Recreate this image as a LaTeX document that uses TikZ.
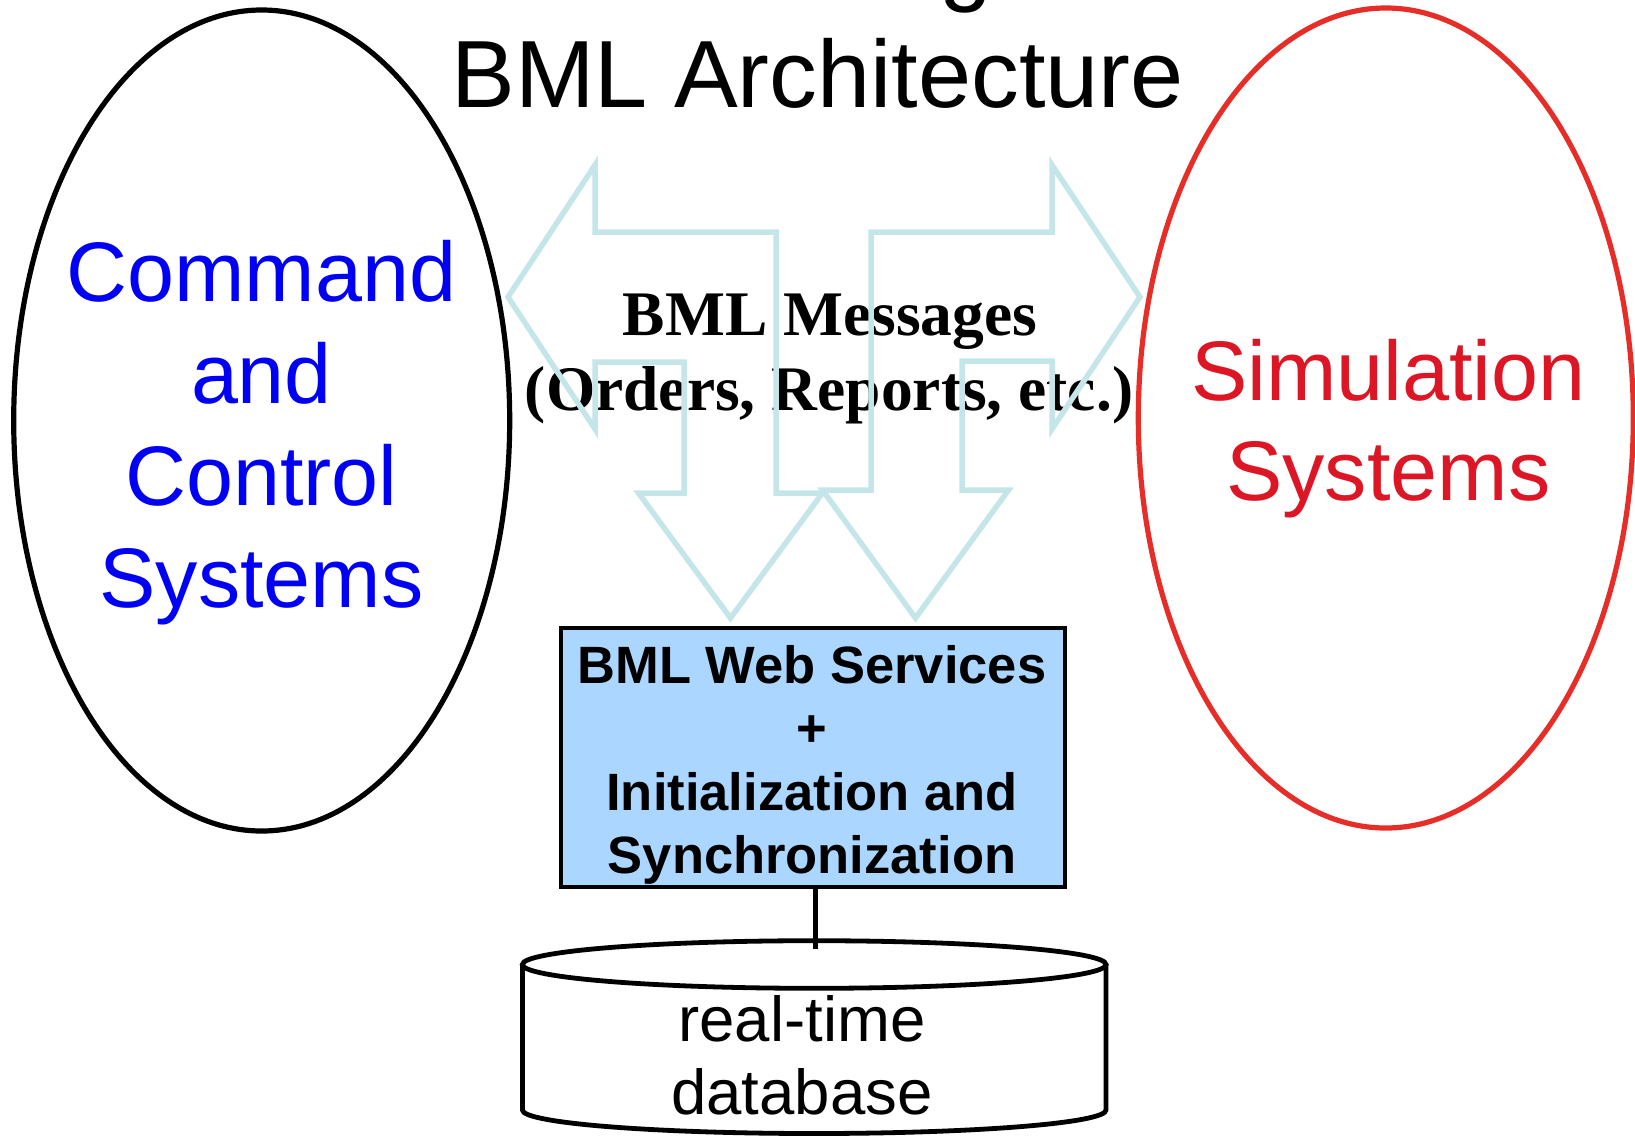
\documentclass[tikz,border=0pt]{standalone}
\usepackage{fontspec}
\setmainfont{Liberation Sans}
\newfontfamily\msgfont{Liberation Serif}
\usetikzlibrary{shapes.geometric}
\definecolor{cmdblue}{RGB}{0,0,245}
\definecolor{simred}{RGB}{220,22,36}
\definecolor{simedge}{RGB}{230,45,40}
\definecolor{flowcyan}{RGB}{197,230,232}
\definecolor{svcfill}{RGB}{170,214,255}
\newcommand\fsz[1]{\fontsize{#1}{#1}\selectfont}

\begin{document}
\begin{tikzpicture}[x=1pt,y=-1pt,
  lbl/.style={inner sep=0pt, anchor=base},
  sysoval/.style={draw, ellipse, line width=5.2pt, inner sep=0pt},
  flow/.style={draw=flowcyan, line width=5.5pt, line join=miter},
  dbline/.style={draw=black, line width=4.8pt, fill=white}]
\useasboundingbox (0,0) rectangle (1635,1136);
\fill[white] (0,0) rectangle (1635,1136);

% title
\node[lbl, font=\fsz{95}] (titlecut) at (966,-6.5) {g};
\node[lbl, font=\fsz{95.5}] (title) at (817.6,107.3) {BML Architecture};

% the two system ovals
\node[sysoval, draw=black, minimum width=496pt, minimum height=821pt] (c2) at (261.7,420.5) {};
\node[lbl, font=\fsz{84.5}, text=cmdblue] (c2a) at (261.5,301) {Command};
\node[lbl, font=\fsz{84.5}, text=cmdblue] (c2b) at (261.5,403.5) {and};
\node[lbl, font=\fsz{84.5}, text=cmdblue] (c2c) at (261.5,505) {Control};
\node[lbl, font=\fsz{84.5}, text=cmdblue] (c2d) at (261.5,607.5) {Systems};

\node[sysoval, draw=simedge, minimum width=495pt, minimum height=820pt] (sim) at (1385.8,418) {};
\node[lbl, font=\fsz{84.5}, text=simred] (sima) at (1388.3,400.4) {Simulation};
\node[lbl, font=\fsz{84.5}, text=simred] (simb) at (1388.3,500.8) {Systems};

% message label
\node[lbl, font=\msgfont\bfseries\fsz{63.5}] (msg1) at (830,335) {BML Messages};
\node[lbl, font=\msgfont\bfseries\fsz{63.5}] (msg2) at (829,410) {(Orders, Reports, etc.)};

% bent two-headed flow arrows, outline only
\draw[flow] (595,165) -- (508,297) -- (595,429) -- (595,362) -- (684,362)
  -- (684,493) -- (638.5,493) -- (730.5,618) -- (822.5,493) -- (776,493)
  -- (776,232) -- (595,232) -- cycle;
\draw[flow] (1052,165) -- (1140,297) -- (1052,429) -- (1052,361) -- (962,361)
  -- (962,490) -- (1008.5,490) -- (915.5,618) -- (822.5,490) -- (871,490)
  -- (871,232) -- (1052,232) -- cycle;

% web services box
\node[draw, line width=4.8pt, fill=svcfill, minimum width=504pt, minimum height=259pt, inner sep=0pt] (ws) at (813,757.5) {};
\node[lbl, font=\bfseries\fsz{52.5}] (ws1) at (812,683) {BML Web Services};
\node[lbl, font=\bfseries\fsz{52.5}] (ws2) at (812,746) {+};
\node[lbl, font=\bfseries\fsz{52.5}] (ws3) at (812,810) {Initialization and};
\node[lbl, font=\bfseries\fsz{52.5}] (ws4) at (812,873) {Synchronization};

% database cylinder
\coordinate (db) at (814.2,964.5);
\coordinate (dbtop) at (815.5,949);
\draw[dbline] (522.4,964.5) -- (522.4,1110)
  arc[start angle=180, end angle=360, x radius=291.8pt, y radius=23.5pt]
  -- (1106,964.5);
\draw[dbline] (db) ellipse [x radius=291.8pt, y radius=23.8pt];
\node[lbl, font=\fsz{63.5}] (db1) at (802,1041) {real-time};
\node[lbl, font=\fsz{63.5}] (db2) at (802,1114) {database};

% link from the box to the database
\draw[line width=4.8pt] (ws.south -| dbtop) -- (dbtop);
\end{tikzpicture}
\end{document}
